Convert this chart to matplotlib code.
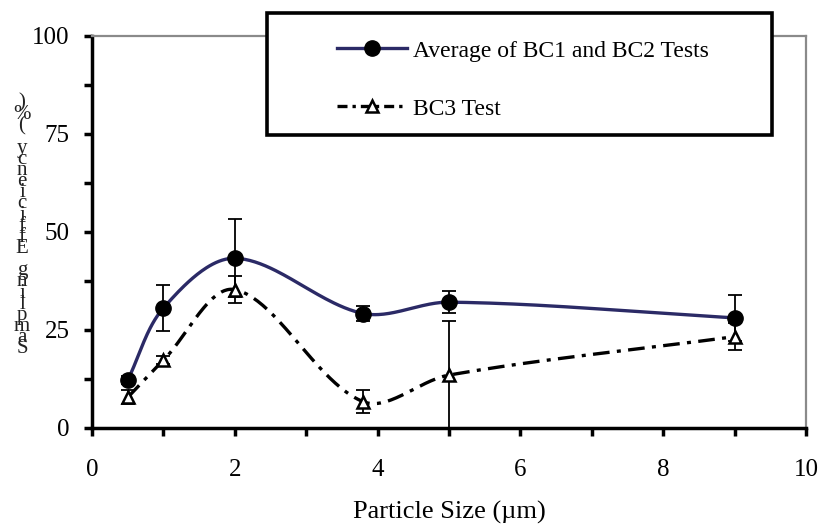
import numpy as np
import matplotlib
matplotlib.use("Agg")
import matplotlib.pyplot as plt
from matplotlib.patches import Rectangle
from matplotlib.lines import Line2D

# ---- data ----
particle_size = [0.5, 1.0, 2.0, 3.8, 5.0, 9.0]
avg_bc12 = [12.2, 30.6, 43.3, 29.2, 32.1, 28.1]
avg_bc12_err = [1.0, 5.8, 9.9, 2.0, 2.8, 5.8]
bc3 = [7.8, 17.3, 35.3, 6.7, 13.5, 23.3]
bc3_err = [1.8, 1.0, 3.5, 3.0, 13.9, 3.4]

x_ticks = [0, 2, 4, 6, 8, 10]
y_ticks = [0, 25, 50, 75, 100]
legend_labels = ["Average of BC1 and BC2 Tests", "BC3 Test"]
xlabel = "Particle Size (\u00b5m)"
ylabel = "Sampling Efficiency (%)"

W, H = 825, 526
AX_L, AX_R, AX_T, AX_B = 92, 806, 36, 428
XS = (AX_R - AX_L) / 10.0   # px per x unit
YS = (AX_B - AX_T) / 100.0  # px per y unit


def smooth(xs, ys, n=50):
    """Excel-like smoothed line: cubic Bezier through points, tangents scaled by
    chord lengths (computed in screen space)."""
    P = np.column_stack([np.asarray(xs, float) * XS, np.asarray(ys, float) * YS])
    m = len(P)
    d = np.linalg.norm(np.diff(P, axis=0), axis=1)
    out = []
    for i in range(m - 1):
        p1, p2 = P[i], P[i + 1]
        if i > 0:
            T1 = P[i + 1] - P[i - 1]
            c1 = p1 + T1 * d[i] / (d[i - 1] + d[i]) / 3.0
        else:
            c1 = p1 + (p2 - p1) / 3.0
        if i + 2 < m:
            T2 = P[i + 2] - P[i]
            c2 = p2 - T2 * d[i] / (d[i] + d[i + 1]) / 3.0
        else:
            c2 = p2 - (p2 - p1) / 3.0
        t = np.linspace(0, 1, n)[:, None]
        seg = ((1 - t) ** 3) * p1 + 3 * ((1 - t) ** 2) * t * c1 + 3 * (1 - t) * t ** 2 * c2 + t ** 3 * p2
        out.append(seg if i == 0 else seg[1:])
    out = np.vstack(out)
    return out[:, 0] / XS, out[:, 1] / YS


serif = ["Liberation Serif", "DejaVu Serif"]
plt.rcParams["font.family"] = serif

fig = plt.figure(figsize=(W / 100, H / 100), dpi=100)
ax = fig.add_axes([AX_L / W, 1 - AX_B / H, (AX_R - AX_L) / W, (AX_B - AX_T) / H])

navy = "#2b2a66"
dashdot = (5, 2.2, 1.2, 2.2)

sx, sy = smooth(particle_size, avg_bc12)
ax.plot(sx, sy, color=navy, lw=2.4, zorder=3, solid_capstyle="round")
bx, by = smooth(particle_size, bc3)
ax.plot(bx, by, color="black", lw=2.4, dashes=dashdot, zorder=3)

ax.errorbar(particle_size, avg_bc12, yerr=avg_bc12_err, fmt="none", ecolor="black",
            elinewidth=1.3, capsize=5, capthick=1.3, zorder=4)
ax.errorbar(particle_size, bc3, yerr=bc3_err, fmt="none", ecolor="black",
            elinewidth=1.3, capsize=5, capthick=1.3, zorder=4)

ax.plot(particle_size, avg_bc12, linestyle="none", marker="o", ms=11,
        mfc="black", mec="black", zorder=5)
ax.plot(particle_size, bc3, linestyle="none", marker="^", ms=9,
        mfc="white", mec="black", mew=1.8, zorder=6)

ax.set_xlim(0, 10)
ax.set_ylim(0, 100)
ax.set_xticks(x_ticks)
ax.set_xticks(np.arange(0, 11, 1), minor=True)
ax.set_yticks(y_ticks)
ax.set_yticks(np.arange(0, 101, 12.5), minor=True)
ax.tick_params(axis="both", which="both", direction="out", width=2.5, color="black", length=6)
ax.tick_params(axis="x", which="major", labelsize=18, pad=16)
ax.tick_params(axis="y", which="major", labelsize=18, pad=10)
for lab in ax.get_xticklabels() + ax.get_yticklabels():
    lab.set_fontfamily(serif)

for s in ("left", "bottom"):
    ax.spines[s].set_linewidth(2.5)
    ax.spines[s].set_color("black")
for s in ("top", "right"):
    ax.spines[s].set_linewidth(1.6)
    ax.spines[s].set_color("#8a8a8a")

ax.set_xlabel(xlabel, fontsize=19, labelpad=15)

# stacked (upright) y label, as in the reference
fig.text(22 / W, 1 - 226 / H, "\n".join(reversed(list(ylabel))), fontsize=15,
         ha="center", va="center", multialignment="center", linespacing=0.44,
         color="#222222")

# legend box
fig.patches.append(Rectangle((267 / W, 1 - 135 / H), (772 - 267) / W, (135 - 13) / H,
                             transform=fig.transFigure, facecolor="white",
                             edgecolor="black", lw=2.6, zorder=10))
handles = [
    Line2D([], [], color=navy, lw=2.4, marker="o", ms=11, mfc="black", mec="black"),
    Line2D([], [], color="black", lw=2.4, dashes=(3, 1.5, 1, 1.5), marker="^", ms=9,
           mfc="white", mec="black", mew=1.8),
]
leg = fig.legend(handles, legend_labels, loc="upper left",
                 bbox_to_anchor=(337 / W, 1 - 40 / H), frameon=False,
                 fontsize=17, handlelength=2.95, handletextpad=0.25,
                 labelspacing=1.55, borderpad=0, borderaxespad=0)
leg.set_zorder(11)

fig.savefig("out.png", dpi=100)
